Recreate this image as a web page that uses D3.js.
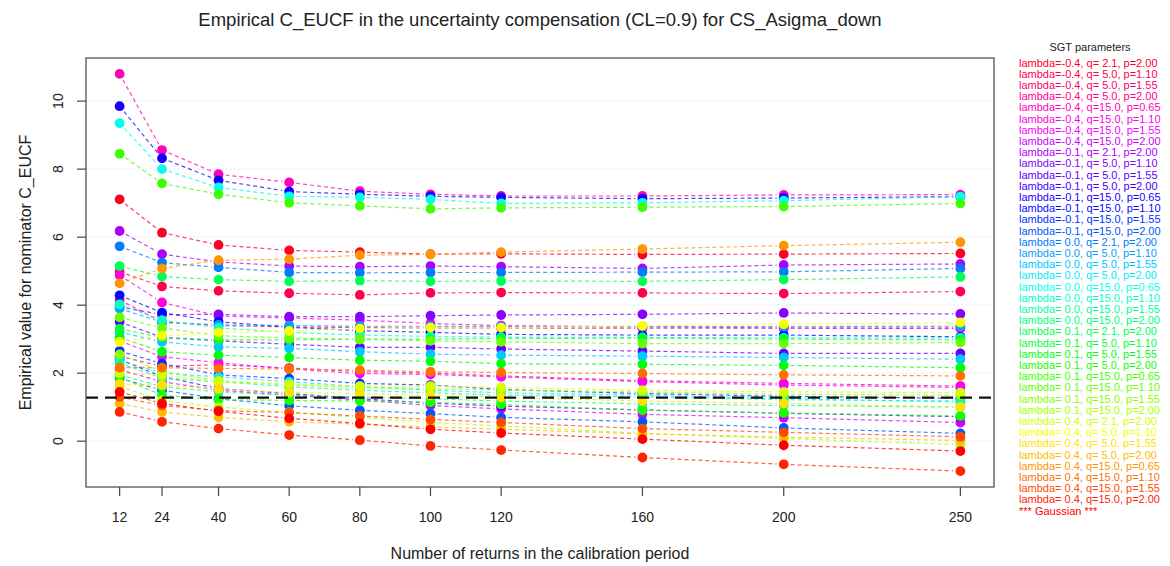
<!DOCTYPE html>
<html><head><meta charset="utf-8">
<script src="https://cdn.jsdelivr.net/npm/d3@7"></script>
<style>body{margin:0;background:#fff}svg{display:block}text{font-family:"Liberation Sans",Arial,sans-serif}</style>
</head><body><svg id="c" width="1170" height="566"></svg>
<script>
// ---- data ----
const xValues = [12, 24, 40, 60, 80, 100, 120, 160, 200, 250];
const yTicks = [0, 2, 4, 6, 8, 10];
const refLevel = 1.2816;
const chartTitle = "Empirical C_EUCF in the uncertainty compensation (CL=0.9) for CS_Asigma_down";
const xTitle = "Number of returns in the calibration period";
const yTitle = "Empirical value for nominator C_EUCF";
const legendTitle = "SGT parameters";
const seriesLabels = [
  "lambda=-0.4, q= 2.1, p=2.00","lambda=-0.4, q= 5.0, p=1.10","lambda=-0.4, q= 5.0, p=1.55","lambda=-0.4, q= 5.0, p=2.00",
  "lambda=-0.4, q=15.0, p=0.65","lambda=-0.4, q=15.0, p=1.10","lambda=-0.4, q=15.0, p=1.55","lambda=-0.4, q=15.0, p=2.00",
  "lambda=-0.1, q= 2.1, p=2.00","lambda=-0.1, q= 5.0, p=1.10","lambda=-0.1, q= 5.0, p=1.55","lambda=-0.1, q= 5.0, p=2.00",
  "lambda=-0.1, q=15.0, p=0.65","lambda=-0.1, q=15.0, p=1.10","lambda=-0.1, q=15.0, p=1.55","lambda=-0.1, q=15.0, p=2.00",
  "lambda= 0.0, q= 2.1, p=2.00","lambda= 0.0, q= 5.0, p=1.10","lambda= 0.0, q= 5.0, p=1.55","lambda= 0.0, q= 5.0, p=2.00",
  "lambda= 0.0, q=15.0, p=0.65","lambda= 0.0, q=15.0, p=1.10","lambda= 0.0, q=15.0, p=1.55","lambda= 0.0, q=15.0, p=2.00",
  "lambda= 0.1, q= 2.1, p=2.00","lambda= 0.1, q= 5.0, p=1.10","lambda= 0.1, q= 5.0, p=1.55","lambda= 0.1, q= 5.0, p=2.00",
  "lambda= 0.1, q=15.0, p=0.65","lambda= 0.1, q=15.0, p=1.10","lambda= 0.1, q=15.0, p=1.55","lambda= 0.1, q=15.0, p=2.00",
  "lambda= 0.4, q= 2.1, p=2.00","lambda= 0.4, q= 5.0, p=1.10","lambda= 0.4, q= 5.0, p=1.55","lambda= 0.4, q= 5.0, p=2.00",
  "lambda= 0.4, q=15.0, p=0.65","lambda= 0.4, q=15.0, p=1.10","lambda= 0.4, q=15.0, p=1.55","lambda= 0.4, q=15.0, p=2.00",
  "*** Gaussian ***"
];
// lambda = -0.4
const lamM04 = [
  [7.11, 6.13, 5.77, 5.61, 5.56, 5.50, 5.51, 5.49, 5.50, 5.52],
  [4.98, 4.55, 4.42, 4.35, 4.30, 4.36, 4.37, 4.36, 4.34, 4.40],
  [4.15, 3.50, 3.40, 3.36, 3.34, 3.33, 3.33, 3.32, 3.32, 3.33],
  [2.50, 2.20, 2.25, 2.15, 2.05, 2.00, 1.92, 1.78, 1.70, 1.62],
  [10.80, 8.56, 7.85, 7.61, 7.35, 7.26, 7.21, 7.21, 7.24, 7.25],
  [4.88, 4.08, 3.68, 3.62, 3.56, 3.46, 3.40, 3.36, 3.33, 3.31],
  [2.95, 2.48, 2.31, 2.12, 1.99, 1.96, 1.89, 1.75, 1.65, 1.58],
  [2.10, 1.75, 1.50, 1.35, 1.21, 1.05, 0.95, 0.79, 0.69, 0.55]
];
// lambda = -0.1
const lamM01 = [
  [6.18, 5.50, 5.27, 5.15, 5.13, 5.15, 5.13, 5.08, 5.18, 5.21],
  [3.95, 3.72, 3.73, 3.66, 3.66, 3.69, 3.71, 3.73, 3.77, 3.74],
  [3.51, 3.05, 2.95, 2.85, 2.76, 2.76, 2.71, 2.65, 2.58, 2.58],
  [2.40, 1.90, 1.55, 1.40, 1.25, 1.12, 1.03, 0.92, 0.82, 0.72],
  [9.85, 8.32, 7.67, 7.34, 7.26, 7.20, 7.17, 7.13, 7.15, 7.19],
  [4.29, 3.78, 3.51, 3.35, 3.25, 3.20, 3.14, 3.12, 3.12, 3.07],
  [2.65, 2.28, 1.95, 1.84, 1.70, 1.65, 1.52, 1.40, 1.32, 1.26],
  [1.85, 1.50, 1.25, 1.04, 0.91, 0.81, 0.70, 0.57, 0.39, 0.23]
];
// lambda = 0.0
const lam00 = [
  [5.73, 5.25, 5.11, 4.96, 4.95, 4.96, 4.96, 4.97, 4.98, 5.08],
  [3.90, 3.50, 3.42, 3.40, 3.38, 3.38, 3.37, 3.37, 3.37, 3.38],
  [3.21, 2.92, 2.77, 2.73, 2.63, 2.56, 2.53, 2.50, 2.46, 2.41],
  [2.38, 2.00, 1.89, 1.75, 1.60, 1.50, 1.42, 1.35, 1.25, 1.15],
  [9.35, 8.00, 7.46, 7.20, 7.17, 7.11, 6.99, 7.01, 7.07, 7.19],
  [4.02, 3.56, 3.33, 3.20, 3.12, 3.08, 3.06, 3.05, 3.04, 3.04],
  [2.30, 1.85, 1.75, 1.60, 1.50, 1.42, 1.35, 1.30, 1.22, 1.18],
  [1.95, 1.60, 1.45, 1.35, 1.30, 1.25, 1.18, 1.10, 1.05, 1.00]
];
// lambda = 0.1
const lam01 = [
  [5.15, 4.84, 4.75, 4.70, 4.72, 4.70, 4.71, 4.70, 4.75, 4.83],
  [3.30, 3.05, 2.98, 2.98, 3.00, 3.00, 3.02, 3.03, 3.00, 2.98],
  [3.05, 2.63, 2.53, 2.46, 2.38, 2.35, 2.28, 2.26, 2.23, 2.16],
  [1.89, 1.35, 1.22, 1.20, 1.18, 1.14, 1.08, 0.91, 0.83, 0.74],
  [8.45, 7.58, 7.26, 7.01, 6.92, 6.83, 6.86, 6.88, 6.90, 6.99],
  [3.64, 3.33, 3.10, 3.04, 2.99, 2.95, 2.92, 2.87, 2.87, 2.90],
  [2.55, 2.05, 1.78, 1.65, 1.58, 1.55, 1.50, 1.45, 1.38, 1.35],
  [1.60, 1.20, 1.00, 0.85, 0.70, 0.55, 0.45, 0.23, 0.08, -0.10]
];
// lambda = 0.4
const lam04 = [
  [2.00, 1.94, 1.75, 1.68, 1.62, 1.62, 1.58, 1.50, 1.45, 1.43],
  [2.92, 3.10, 3.20, 3.24, 3.31, 3.34, 3.34, 3.39, 3.44, 3.49],
  [1.68, 1.65, 1.53, 1.43, 1.40, 1.35, 1.29, 1.18, 1.11, 1.01],
  [1.11, 0.86, 0.70, 0.57, 0.50, 0.42, 0.35, 0.22, 0.12, 0.02],
  [4.64, 5.08, 5.32, 5.35, 5.47, 5.49, 5.56, 5.65, 5.75, 5.85],
  [2.16, 2.16, 2.14, 2.12, 2.09, 2.04, 2.02, 1.99, 1.95, 1.92],
  [1.30, 1.05, 0.90, 0.84, 0.74, 0.64, 0.55, 0.37, 0.26, 0.13],
  [0.86, 0.57, 0.37, 0.18, 0.03, -0.14, -0.26, -0.48, -0.68, -0.88]
];
const gaussian = [1.45, 1.11, 0.88, 0.67, 0.52, 0.35, 0.24, 0.06, -0.12, -0.29];

const allSeries = [...lamM04, ...lamM01, ...lam00, ...lam01, ...lam04, gaussian];
const nS = allSeries.length;
// R: rev(rainbow(41))
const colorOf = i => d3.hsl(360 * (nS - 1 - i) / nS, 1, 0.5).toString();

// ---- layout ----
const svg = d3.select("#c");
const L = 86, R = 994, T = 58, B = 487;
const xr = d3.extent(xValues), xpad = (xr[1] - xr[0]) * 0.04;
const allV = allSeries.flat();
const yr = d3.extent(allV), ypad = (yr[1] - yr[0]) * 0.04;
const x = d3.scaleLinear().domain([xr[0] - xpad, xr[1] + xpad]).range([L, R]);
const y = d3.scaleLinear().domain([yr[0] - ypad, yr[1] + ypad]).range([B, T]);

// grid
svg.append("g").selectAll("line").data(yTicks).join("line")
  .attr("x1", L).attr("x2", R).attr("y1", d => y(d)).attr("y2", d => y(d))
  .attr("stroke", "#cfcfcf").attr("stroke-width", 1).attr("stroke-dasharray", "1,3");

// series
const gap = 7;
allSeries.forEach((vals, i) => {
  const col = colorOf(i);
  const g = svg.append("g");
  const pts = vals.map((v, j) => [x(xValues[j]), y(v)]);
  for (let j = 0; j < pts.length - 1; j++) {
    const [x1, y1] = pts[j], [x2, y2] = pts[j + 1];
    const dx = x2 - x1, dy = y2 - y1, len = Math.hypot(dx, dy);
    if (len <= 2 * gap) continue;
    const ux = dx / len, uy = dy / len;
    g.append("line")
      .attr("x1", x1 + ux * gap).attr("y1", y1 + uy * gap)
      .attr("x2", x2 - ux * gap).attr("y2", y2 - uy * gap)
      .attr("stroke", col).attr("stroke-width", 1.2).attr("stroke-opacity", 0.75)
      .attr("stroke-dasharray", "4,3");
  }
  g.selectAll("circle").data(vals).join("circle")
    .attr("cx", (d, j) => x(xValues[j])).attr("cy", d => y(d)).attr("r", 4.9)
    .attr("fill", col);
});

// reference dashed line
svg.append("line").attr("x1", L).attr("x2", R).attr("y1", y(refLevel)).attr("y2", y(refLevel))
  .attr("stroke", "#111").attr("stroke-width", 2.2).attr("stroke-dasharray", "12,7");

// box
svg.append("rect").attr("x", L).attr("y", T).attr("width", R - L).attr("height", B - T)
  .attr("fill", "none").attr("stroke", "#444").attr("stroke-width", 1.2);

// x axis
const xa = svg.append("g");
xa.selectAll("line").data(xValues).join("line")
  .attr("x1", d => x(d)).attr("x2", d => x(d)).attr("y1", B).attr("y2", B + 9)
  .attr("stroke", "#444").attr("stroke-width", 1.2);
xa.selectAll("text").data(xValues).join("text")
  .attr("x", d => x(d)).attr("y", 522).attr("text-anchor", "middle")
  .attr("font-size", 14).attr("fill", "#222").text(d => d);

// y axis
const ya = svg.append("g");
ya.selectAll("line").data(yTicks).join("line")
  .attr("x1", L - 9).attr("x2", L).attr("y1", d => y(d)).attr("y2", d => y(d))
  .attr("stroke", "#444").attr("stroke-width", 1.2);
ya.selectAll("text").data(yTicks).join("text")
  .attr("transform", d => `translate(63,${y(d)}) rotate(-90)`)
  .attr("text-anchor", "middle").attr("font-size", 14).attr("fill", "#222").text(d => d);

// titles
svg.append("text").attr("x", (L + R) / 2).attr("y", 26).attr("text-anchor", "middle")
  .attr("font-size", 18.5).attr("fill", "#222").text(chartTitle);
svg.append("text").attr("x", (L + R) / 2).attr("y", 559).attr("text-anchor", "middle")
  .attr("font-size", 16).attr("fill", "#222").text(xTitle);
svg.append("text").attr("transform", `translate(31,${(T + B) / 2}) rotate(-90)`)
  .attr("text-anchor", "middle").attr("font-size", 16).attr("fill", "#222").text(yTitle);

// legend
svg.append("text").attr("x", 1090).attr("y", 51).attr("text-anchor", "middle")
  .attr("font-size", 11).attr("fill", "#222").text(legendTitle);
svg.append("g").selectAll("text").data(seriesLabels).join("text")
  .attr("x", 1019).attr("y", (d, i) => 66.5 + i * 11.2)
  .attr("font-size", 11).attr("fill", (d, i) => colorOf(i)).text(d => d);
</script></body></html>
